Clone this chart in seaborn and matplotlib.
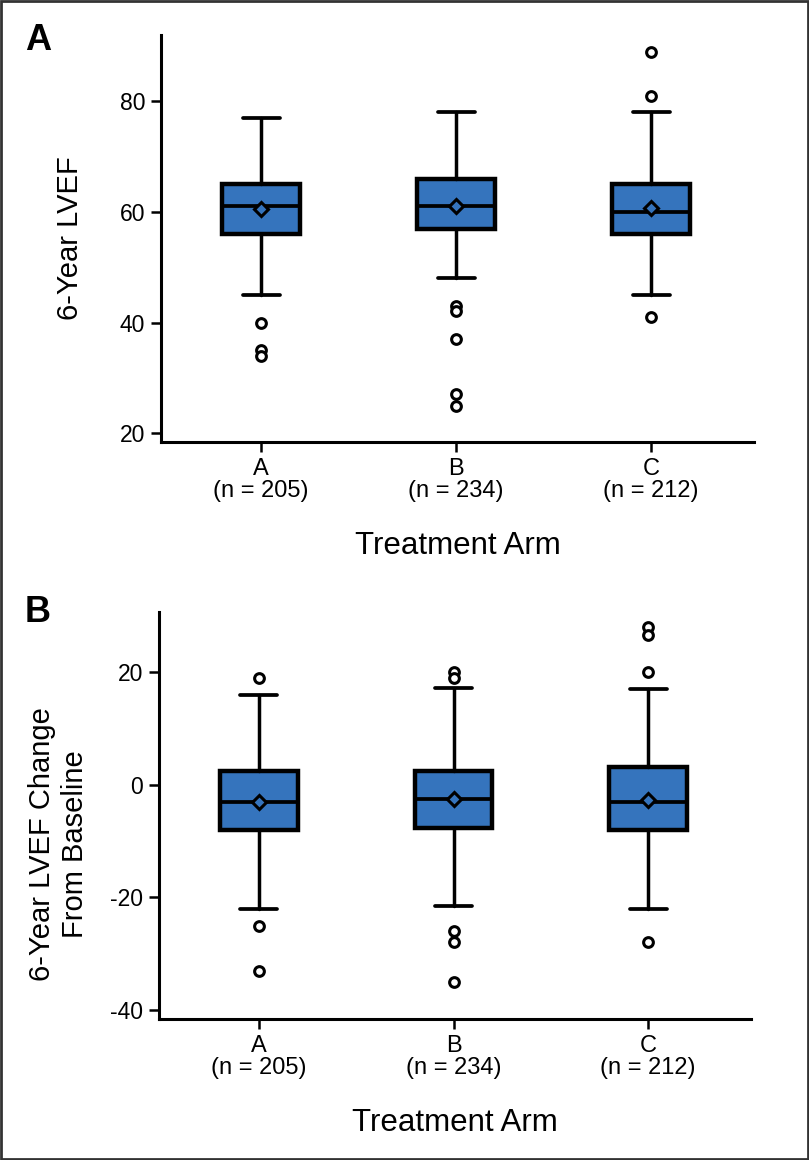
import matplotlib
matplotlib.use("Agg")
import matplotlib.pyplot as plt
import seaborn as sns
from matplotlib.patches import Rectangle

sns.set_style("ticks")
plt.rcParams['font.family'] = ['Liberation Sans', 'DejaVu Sans']
plt.rcParams.update({"text.color": "black", "axes.labelcolor": "black",
                     "xtick.color": "black", "ytick.color": "black"})

# ---- data ----
arms = ["A", "B", "C"]
n_per_arm = [205, 234, 212]

# Panel A: 6-year LVEF
a_whislo = [45, 48, 45]
a_q1 = [56, 57, 56]
a_med = [61, 61, 60]
a_q3 = [65, 66, 65]
a_whishi = [77, 78, 78]
a_mean = [60.5, 61.0, 60.7]
a_fliers = [[40, 35, 34], [43, 42, 37, 27, 25], [89, 81, 41]]

# Panel B: 6-year LVEF change from baseline
b_whislo = [-22, -21.6, -22]
b_q1 = [-8, -7.6, -8]
b_med = [-3, -2.5, -3]
b_q3 = [2.5, 2.5, 3.1]
b_whishi = [16, 17.2, 17]
b_mean = [-3.0, -2.5, -2.7]
b_fliers = [[19, -25, -33], [20, 19, -26, -28, -35], [28, 26.7, 20, -28]]

box_color = "#3574BD"

fig = plt.figure(figsize=(8.09, 11.6), dpi=100)
W, H = 809, 1160


def make_stats(lo, q1, med, q3, hi, mean, fl):
    return [dict(whislo=lo[i], q1=q1[i], med=med[i], q3=q3[i], whishi=hi[i],
                 mean=mean[i], fliers=fl[i], label=arms[i]) for i in range(len(arms))]


def draw_panel(rect, stats, ylim, yticks, ylabel, ylabel_xy, letter, letter_y):
    ax = fig.add_axes(rect)
    ax.bxp(stats, positions=range(len(arms)), widths=0.4, patch_artist=True,
           showmeans=True, showfliers=True,
           boxprops=dict(facecolor=box_color, edgecolor="black", linewidth=3.2),
           medianprops=dict(color="black", linewidth=2.7),
           whiskerprops=dict(color="black", linewidth=2.5),
           capprops=dict(color="black", linewidth=2.7),
           capwidths=0.19,
           meanprops=dict(marker="D", markerfacecolor=box_color, markeredgecolor="black",
                          markeredgewidth=2.2, markersize=7),
           flierprops=dict(marker="o", markerfacecolor="white", markeredgecolor="black",
                           markeredgewidth=2.2, markersize=7))
    ax.set_xlim(-0.513, 2.528)
    ax.set_ylim(*ylim)
    ax.set_yticks(yticks)
    ax.set_yticklabels([str(t) for t in yticks], fontsize=16.5)
    ax.set_xticks(range(len(arms)))
    ax.set_xticklabels([f"{a}\n(n = {n})" for a, n in zip(arms, n_per_arm)],
                       fontsize=17, linespacing=1.0)
    sns.despine(ax=ax)
    for s in ["left", "bottom"]:
        ax.spines[s].set_linewidth(2.2)
        ax.spines[s].set_color("black")
    ax.tick_params(axis="both", width=1.8, length=7.5, pad=4)
    ax.set_xlabel("Treatment Arm", fontsize=22.5, va="center")
    ax.xaxis.set_label_coords(0.5, -0.255)
    ax.set_ylabel(ylabel, fontsize=21, va="center", linespacing=1.2)
    ax.yaxis.set_label_coords(*ylabel_xy)
    ax.grid(False)
    fig.text(25 / W, 1 - letter_y / H, letter, fontsize=26, fontweight="bold",
             ha="left", va="center")
    return ax


stats_a = make_stats(a_whislo, a_q1, a_med, a_q3, a_whishi, a_mean, a_fliers)
stats_b = make_stats(b_whislo, b_q1, b_med, b_q3, b_whishi, b_mean, b_fliers)

draw_panel([161 / W, 1 - 442 / H, 593 / W, 407 / H], stats_a, (18.4, 92),
           [20, 40, 60, 80], "6-Year LVEF", (-0.153, 0.5), "A", 40)
draw_panel([159 / W, 1 - 1019 / H, 592 / W, 407 / H], stats_b, (-41.6, 30.7),
           [-40, -20, 0, 20], "6-Year LVEF Change\nFrom Baseline", (-0.17, 0.43), "B", 612)

fig.patches.append(Rectangle((0.0015, 0.001), 0.997, 0.998, transform=fig.transFigure,
                             fill=False, edgecolor="#333333", linewidth=2))

fig.savefig("out.png", dpi=100)
